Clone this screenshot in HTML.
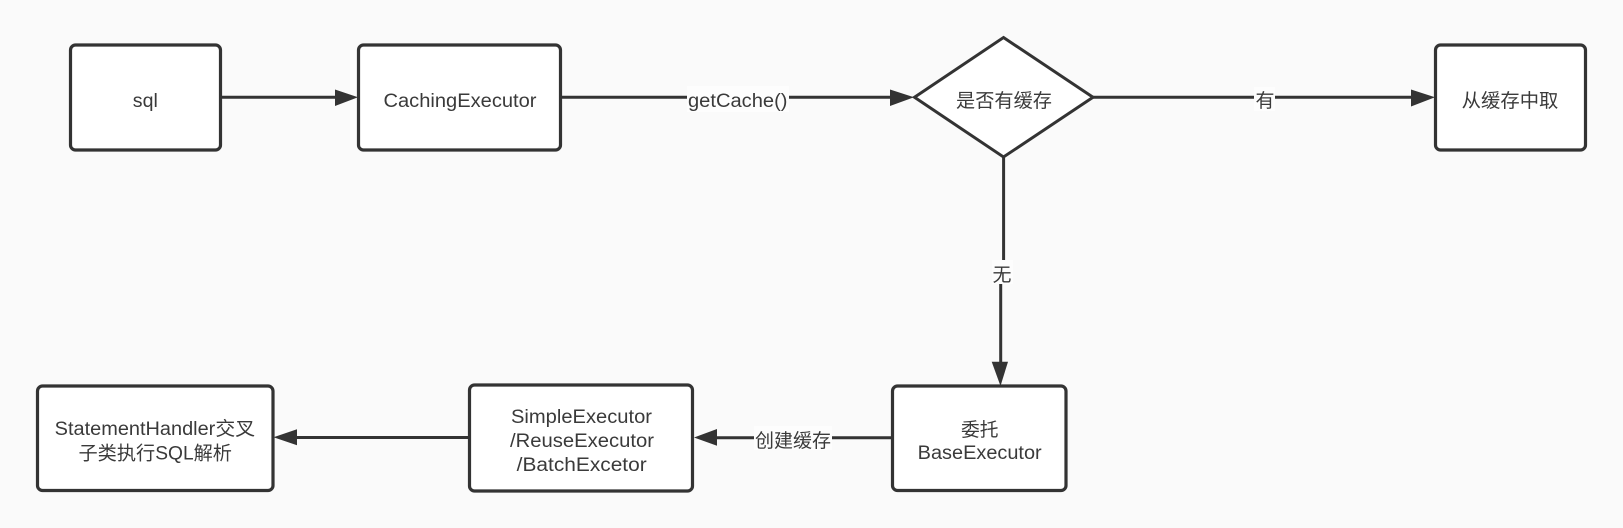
<!DOCTYPE html>
<html>
<head>
<meta charset="utf-8">
<style>
html,body{margin:0;padding:0;background:#fafafa;width:1623px;height:528px;overflow:hidden}
svg{display:block}
text{font-family:"Liberation Sans","Noto Sans CJK SC",sans-serif;font-size:19px;fill:#3a3a3a}
.b{fill:#fff;stroke:#333;stroke-width:3.2}
.l{stroke:#333;stroke-width:3;fill:none}
.a{fill:#333}
.lb{fill:#fdfdfd}
</style>
</head>
<body>
<svg width="1623" height="528" viewBox="0 0 1623 528" xmlns="http://www.w3.org/2000/svg">
<rect width="1623" height="528" fill="#fafafa"/>

<!-- connectors -->
<path class="l" d="M221 97.3H336"/>
<path class="l" d="M561 97.3H891"/>
<path class="l" d="M1093 97.3H1412"/>
<path class="l" d="M1003.6 157V260"/>
<path class="l" d="M1000.7 283V363"/>
<path class="l" d="M717 437.7H891"/>
<path class="l" d="M296 437.5H469"/>

<!-- arrowheads -->
<polygon class="a" points="335,89.5 358,97.3 335,106"/>
<polygon class="a" points="890,89.5 914,97.3 890,106"/>
<polygon class="a" points="1411,89.5 1435,97.3 1411,106.5"/>
<polygon class="a" points="991.7,361.7 1008,361.7 1000.5,386"/>
<polygon class="a" points="717,429 694,437.5 717,445.7"/>
<polygon class="a" points="297,429.3 273.5,437.3 297,445.3"/>

<!-- nodes -->
<rect class="b" x="70.5" y="45" width="150" height="105" rx="5"/>
<rect class="b" x="358.5" y="45" width="202" height="105" rx="5"/>
<polygon points="1003.5,37.5 1093,97.3 1003.5,157 914.5,97.3" fill="#fff" stroke="#333" stroke-width="3" stroke-linejoin="miter"/>
<rect class="b" x="1435.5" y="45" width="150" height="105" rx="5"/>
<rect class="b" x="37.5" y="386" width="235.5" height="104.5" rx="5"/>
<rect class="b" x="469.5" y="385" width="223" height="106" rx="5"/>
<rect class="b" x="892.5" y="386" width="173.5" height="104.5" rx="5"/>

<!-- label backgrounds -->
<rect class="lb" x="687" y="86" width="102" height="26"/>
<rect class="lb" x="1254" y="87" width="21" height="24"/>
<rect class="lb" x="992" y="260" width="21" height="24"/>
<rect class="lb" x="754" y="426" width="78" height="24"/>

<!-- text -->
<text x="132.8" y="107" textLength="25" lengthAdjust="spacingAndGlyphs">sql</text>
<text x="383.5" y="107" textLength="153" lengthAdjust="spacingAndGlyphs">CachingExecutor</text>
<text x="688" y="107" textLength="99.5" lengthAdjust="spacingAndGlyphs">getCache()</text>
<text x="956" y="107" textLength="96" lengthAdjust="spacingAndGlyphs">是否有缓存</text>
<text x="1255.5" y="107">有</text>
<text x="1461.7" y="107" textLength="96.7" lengthAdjust="spacingAndGlyphs">从缓存中取</text>
<text x="992.5" y="281">无</text>
<text x="755" y="447" textLength="76" lengthAdjust="spacingAndGlyphs">创建缓存</text>
<text x="961" y="436" textLength="37.5" lengthAdjust="spacingAndGlyphs">委托</text>
<text x="917.7" y="459" textLength="124" lengthAdjust="spacingAndGlyphs">BaseExecutor</text>
<text x="511" y="423" textLength="141" lengthAdjust="spacingAndGlyphs">SimpleExecutor</text>
<text x="510" y="447" textLength="144" lengthAdjust="spacingAndGlyphs">/ReuseExecutor</text>
<text x="516.7" y="471" textLength="130" lengthAdjust="spacingAndGlyphs">/BatchExcetor</text>
<text x="54.7" y="435" textLength="200.5" lengthAdjust="spacingAndGlyphs">StatementHandler交叉</text>
<text x="78.5" y="459.5" textLength="153.5" lengthAdjust="spacingAndGlyphs">子类执行SQL解析</text>
</svg>
</body>
</html>
